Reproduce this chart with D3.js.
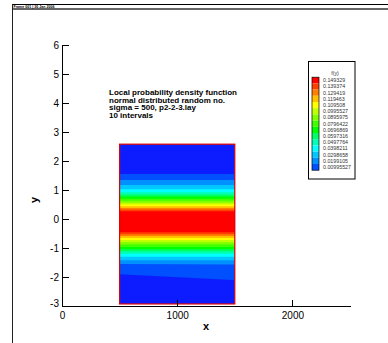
<html>
<head>
<meta charset="utf-8">
<script src="https://cdn.jsdelivr.net/npm/d3@7"></script>
<style type="text/css">
body { margin: 0; background: #fff; }
svg { font-family: Arial, "Liberation Sans", sans-serif; }
.axis text { font-size: 10px; fill: #000; }
.axis line, .axis path { stroke: #000; stroke-width: 1px; shape-rendering: crispEdges; }
.note { font-size: 8px; font-weight: bold; }
.leg text { font-size: 5.3px; fill: #333; }
</style>
</head>
<body>
<svg width="388" height="343"></svg>
<script>
// contour levels from the legend (top -> bottom as printed)
var levelLabels = ['0.149329', '0.139374', '0.129419', '0.119463', '0.109508', '0.0995527',
    '0.0895975', '0.0796422', '0.0696869', '0.0597316', '0.0497764', '0.0398211',
    '0.0298658', '0.0199105', '0.00995527'];
// band colours, lowest band (below first level) first
var bandColors = ['#0d1cff', '#0050ff', '#0090ff', '#00c8ff', '#00ffff', '#00ffb4', '#00ff64',
    '#00ff00', '#40ff00', '#80ff00', '#c0ff00', '#ffff00', '#ffc000', '#ff8000', '#ff4000', '#ff0000'];

// sampled f along y, at the left (x=500) and right (x=1500) edges of the block
var xCols = [500, 1500];
var yRows = [-2.93, -2.5, -2.1, -1.9, -1.7, -1.55, -1.42, -1.3, -1.2, -1.12, -1.04, -0.96, -0.88,
    -0.8, -0.72, -0.65, -0.58, -0.52, -0.45, -0.3, -0.1, 0.1, 0.26, 0.32, 0.38, 0.44, 0.5, 0.56,
    0.63, 0.7, 0.77, 0.84, 0.92, 1.02, 1.17, 1.34, 1.55, 1.9, 2.25, 2.58];
var fLeft = [0.003, 0.005, 0.0075, 0.010, 0.015, 0.020, 0.030, 0.040, 0.050, 0.060, 0.070, 0.080, 0.090,
    0.100, 0.110, 0.120, 0.130, 0.140, 0.150, 0.156, 0.158, 0.156, 0.150, 0.140, 0.130, 0.120, 0.110, 0.100,
    0.090, 0.080, 0.070, 0.060, 0.050, 0.040, 0.030, 0.020, 0.010, 0.006, 0.004, 0.003];
var fRight = [0.004, 0.0065, 0.0100, 0.012, 0.016, 0.0205, 0.030, 0.040, 0.050, 0.060, 0.070, 0.080, 0.090,
    0.100, 0.110, 0.120, 0.130, 0.140, 0.150, 0.156, 0.158, 0.156, 0.150, 0.140, 0.130, 0.120, 0.110, 0.100,
    0.090, 0.080, 0.070, 0.060, 0.050, 0.040, 0.030, 0.020, 0.010, 0.006, 0.004, 0.003];

var xTicks = [0, 1000, 2000];
var yTicks = [-3, -2, -1, 0, 1, 2, 3, 4, 5, 6];
var noteLines = ['Local probability density function', 'normal distributed random no.',
    'sigma = 500, p2-2-3.lay', '10 intervals'];

var svg = d3.select('svg');
var x = d3.scaleLinear().domain([0, 2500]).range([62, 350]);
var y = d3.scaleLinear().domain([-3, 6]).range([306, 45]);
var plain = function(d) { return String(d); };

// frame header
svg.append('line').attr('x1', 12).attr('x2', 388).attr('y1', 4.5).attr('y2', 4.5)
    .attr('stroke', '#000').attr('stroke-width', 1);
svg.append('line').attr('x1', 12).attr('x2', 388).attr('y1', 9).attr('y2', 9)
    .attr('stroke', '#333').attr('stroke-width', 1.5);
svg.append('line').attr('x1', 12.5).attr('x2', 12.5).attr('y1', 4).attr('y2', 343)
    .attr('stroke', '#222').attr('stroke-width', 1);
svg.append('text').attr('x', 13.5).attr('y', 7.7).attr('font-size', '3.6px')
    .attr('font-weight', 'bold').text('Frame 001  |  30 Jan 2006');

// contour flood
var n = xCols.length, m = yRows.length, grid = [];
for (var j = 0; j < m; j++) { grid.push(fLeft[j], fRight[j]); }
var levels = levelLabels.map(Number).reverse();
var gx = d3.scaleLinear().domain([0, 0.5, 1.5, 2]).range([500, 500, 1500, 1500]);
var gyDom = [0], gyRange = [yRows[0]];
yRows.forEach(function(v, i) { gyDom.push(i + 0.5); gyRange.push(v); });
gyDom.push(m); gyRange.push(yRows[m - 1]);
var gy = d3.scaleLinear().domain(gyDom).range(gyRange);
var proj = d3.geoTransform({ point: function(px, py) {
    this.stream.point(x(gx(px)), y(gy(py)));
}});
var path = d3.geoPath(proj);

var plot = svg.append('g');
plot.append('rect').attr('x', x(xCols[0])).attr('y', y(yRows[m - 1]))
    .attr('width', x(xCols[1]) - x(xCols[0])).attr('height', y(yRows[0]) - y(yRows[m - 1]))
    .attr('fill', bandColors[0]);
plot.selectAll('path.band')
    .data(d3.contours().size([n, m]).thresholds(levels)(grid))
  .enter().append('path')
    .attr('class', 'band')
    .attr('d', path)
    .attr('fill', function(d, i) { return bandColors[i + 1]; });
plot.append('rect').attr('x', x(xCols[0])).attr('y', y(yRows[m - 1]))
    .attr('width', x(xCols[1]) - x(xCols[0])).attr('height', y(yRows[0]) - y(yRows[m - 1]))
    .attr('fill', 'none').attr('stroke', '#e00000').attr('stroke-width', 1.2);

// axes
var gX = svg.append('g').attr('class', 'axis').attr('transform', 'translate(0,306)');
gX.call(d3.axisBottom(x).tickValues(d3.range(0, 2501, 200)).tickSize(-3.5).tickSizeOuter(0).tickFormat(''));
gX.call(d3.axisBottom(x).tickValues(xTicks).tickSize(-6.5).tickSizeOuter(0).tickPadding(6).tickFormat(plain));
var gY = svg.append('g').attr('class', 'axis').attr('transform', 'translate(62,0)');
gY.call(d3.axisLeft(y).tickValues(d3.range(-3, 6.01, 0.2)).tickSize(-3.5).tickSizeOuter(0).tickFormat(''));
gY.call(d3.axisLeft(y).tickValues(yTicks).tickSize(-6.5).tickSizeOuter(0).tickPadding(3).tickFormat(plain));
// bottom label sits a little higher, clear of the x axis
gY.selectAll('.tick').filter(function(d) { return d === -3; }).select('text').attr('y', -3);
svg.selectAll('.axis .domain').attr('stroke-width', 1.3);

svg.append('text').attr('x', 206).attr('y', 329.5).attr('text-anchor', 'middle')
    .attr('font-size', '11px').attr('font-weight', 'bold').text('x');
svg.append('text').attr('transform', 'translate(38,200) rotate(-90)').attr('text-anchor', 'middle')
    .attr('font-size', '11px').attr('font-weight', 'bold').text('y');

// annotation
svg.append('g').selectAll('text').data(noteLines).enter().append('text')
    .attr('class', 'note').attr('x', 109).attr('y', function(d, i) { return 95 + i * 7.6; })
    .text(function(d) { return d; });

// legend
var leg = svg.append('g').attr('class', 'leg');
leg.append('rect').attr('x', 308.5).attr('y', 61.5).attr('width', 46.5).attr('height', 117.5)
    .attr('fill', '#fff').attr('stroke', '#000').attr('stroke-width', 1);
leg.append('text').attr('x', 335).attr('y', 75).attr('text-anchor', 'middle').text('f(y)');
var ly = d3.scaleLinear().domain([0, levelLabels.length - 1]).range([80.3, 167.1]);
leg.selectAll('rect.sw').data(levelLabels).enter().append('rect')
    .attr('class', 'sw').attr('x', 312).attr('width', 7)
    .attr('y', function(d, i) { return ly(i) - 3.1; }).attr('height', 6.2)
    .attr('fill', function(d, i) { return bandColors[levelLabels.length - i]; });
leg.append('rect').attr('x', 312).attr('y', ly(0) - 3.1).attr('width', 7)
    .attr('height', ly(levelLabels.length - 1) - ly(0) + 6.2)
    .attr('fill', 'none').attr('stroke', '#000').attr('stroke-width', 0.7);
leg.selectAll('text.lab').data(levelLabels).enter().append('text')
    .attr('class', 'lab').attr('x', 323).attr('y', function(d, i) { return ly(i); })
    .attr('dy', '0.35em').text(function(d) { return d; });
</script>
</body>
</html>
